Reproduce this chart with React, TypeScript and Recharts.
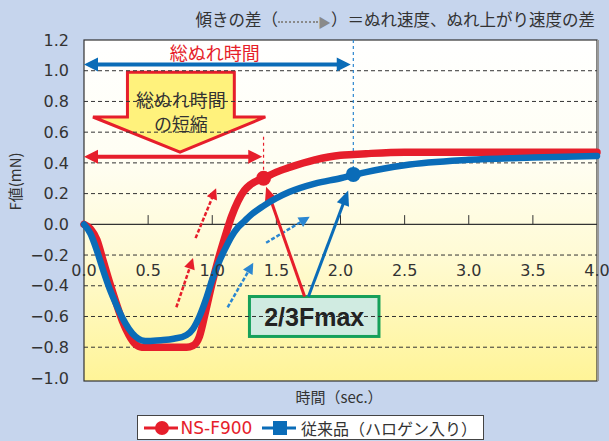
import React from "react";
import {
  Line,
  LineChart,
  ReferenceArea,
  ReferenceDot,
  ReferenceLine,
  XAxis,
  YAxis,
} from "recharts";

// time (sec.)
const times = [
  0, 0.05, 0.1, 0.15, 0.2, 0.25, 0.3, 0.35, 0.4, 0.45, 0.5, 0.6, 0.7, 0.8, 0.85,
  0.9, 0.95, 1.0, 1.05, 1.1, 1.15, 1.2, 1.25, 1.3, 1.4, 1.5, 1.6, 1.8, 2.0, 2.1,
  2.2, 2.5, 3.0, 3.5, 4.0,
];
// F value (mN), NS-F900
const nsF900 = [
  0, -0.03, -0.1, -0.24, -0.38, -0.51, -0.63, -0.72, -0.78, -0.8, -0.8, -0.8,
  -0.8, -0.8, -0.79, -0.73, -0.56, -0.38, -0.22, -0.08, 0.05, 0.15, 0.22, 0.26,
  0.3, 0.34, 0.37, 0.42, 0.45, 0.455, 0.46, 0.47, 0.47, 0.47, 0.47,
];
// F value (mN), conventional product
const conventional = [
  0, -0.06, -0.17, -0.3, -0.42, -0.52, -0.61, -0.68, -0.73, -0.755, -0.76,
  -0.755, -0.745, -0.72, -0.68, -0.6, -0.49, -0.36, -0.25, -0.16, -0.08, -0.02,
  0.02, 0.06, 0.12, 0.17, 0.21, 0.265, 0.3, 0.32, 0.34, 0.385, 0.42, 0.435, 0.445,
];
const seriesNames = ["NS-F900", "従来品（ハロゲン入り）"];

const yTicks = [-1.0, -0.8, -0.6, -0.4, -0.2, 0.0, 0.2, 0.4, 0.6, 0.8, 1.0, 1.2];
const gridValues = [-0.8, -0.6, -0.4, -0.2, 0.2, 0.4, 0.6, 0.8, 1.0];
const xTicks = [0, 0.5, 1.0, 1.5, 2.0, 2.5, 3.0, 3.5, 4.0];

// 2/3 Fmax points
const redMark = { x: 1.4, y: 0.3 };
const blueMark = { x: 2.1, y: 0.325 };

const data = times.map((t, i) => ({ t, red: nsF900[i], blue: conventional[i] }));

const RED = "#e61e2b";
const BLUE = "#0a6cb8";
const LIGHT_BLUE = "#2b87d1";
const INK = "#333";
const FONT = '"DejaVu Sans", "Noto Sans CJK JP", sans-serif';
const JP = '"Noto Sans CJK JP", sans-serif';

type ArrowOpts = {
  color: string;
  width: number;
  head: number;
  half: number;
  dash?: string;
  both?: boolean;
};

const arrowShape = (o: ArrowOpts) => (p: any) => {
  const { x1, y1, x2, y2 } = p;
  const len = Math.hypot(x2 - x1, y2 - y1) || 1;
  const ux = (x2 - x1) / len;
  const uy = (y2 - y1) / len;
  const head = (tx: number, ty: number, dir: number) => {
    const bx = tx - dir * ux * o.head;
    const by = ty - dir * uy * o.head;
    return `${tx},${ty} ${bx - uy * o.half},${by + ux * o.half} ${bx + uy * o.half},${by - ux * o.half}`;
  };
  const sx = o.both ? x1 + ux * o.head * 0.8 : x1;
  const sy = o.both ? y1 + uy * o.head * 0.8 : y1;
  return (
    <g>
      <line
        x1={sx}
        y1={sy}
        x2={x2 - ux * o.head * 0.8}
        y2={y2 - uy * o.head * 0.8}
        stroke={o.color}
        strokeWidth={o.width}
        strokeDasharray={o.dash}
      />
      <polygon points={head(x2, y2, 1)} fill={o.color} />
      {o.both && <polygon points={head(x1, y1, -1)} fill={o.color} />}
    </g>
  );
};

const PlotBackground = (p: any) => (
  <g>
    <defs>
      <linearGradient id="plotBg" x1="0" y1="0" x2="0" y2="1">
        <stop offset="0%" stopColor="#ffffff" />
        <stop offset="35%" stopColor="#fffef3" />
        <stop offset="62%" stopColor="#fffbd6" />
        <stop offset="100%" stopColor="#fff497" />
      </linearGradient>
    </defs>
    <rect x={p.x} y={p.y} width={p.width} height={p.height} fill="url(#plotBg)" stroke={INK} strokeWidth={1.2} />
    <line x1={p.x + p.width + 1} y1={p.y} x2={p.x + p.width + 1} y2={p.y + p.height} stroke="#999" strokeWidth={2} />
  </g>
);

const BigArrow = (p: any) => {
  const { x, y, width: w, height: h } = p;
  const rl = x + w * 0.2;
  const rr = x + w * 0.82;
  const sh = y + h * 0.56;
  const pts = [
    [rl, y],
    [rr, y],
    [rr, sh],
    [x + w, sh],
    [x + w * 0.505, y + h],
    [x, sh],
    [rl, sh],
  ]
    .map((q) => q.join(","))
    .join(" ");
  const cx = x + w * 0.51;
  return (
    <g>
      <polygon points={pts} fill="#fff27c" stroke={RED} strokeWidth={3} strokeLinejoin="miter" />
      <text x={cx} y={y + 27} textAnchor="middle" dominantBaseline="central" fontFamily={JP} fontSize={18} fill={INK}>
        総ぬれ時間
      </text>
      <text x={cx} y={y + 51} textAnchor="middle" dominantBaseline="central" fontFamily={JP} fontSize={18} fill={INK}>
        の短縮
      </text>
    </g>
  );
};

const FmaxBox = (p: any) => (
  <g>
    <rect x={p.x} y={p.y} width={p.width} height={p.height} fill="#d0ebe1" stroke="#16a05a" strokeWidth={3} />
    <text
      x={p.x + p.width / 2}
      y={p.y + p.height / 2 + 1}
      textAnchor="middle"
      dominantBaseline="central"
      fontFamily='"Liberation Sans", Arial, sans-serif'
      fontWeight="bold"
      fontSize={25}
      fill="#222"
    >
      2/3Fmax
    </text>
  </g>
);

const textShape = (value: string, color: string, size: number, family: string) => (p: any) => (
  <text x={p.cx} y={p.cy} textAnchor="middle" dominantBaseline="central" fontFamily={family} fontSize={size} fill={color}>
    {value}
  </text>
);

const fmt = (v: number) => (v < 0 ? "\u2212" + Math.abs(v).toFixed(1) : v.toFixed(1));

const LegendBox = () => (
  <div
    style={{
      position: "absolute",
      left: 137,
      top: 415,
      width: 347,
      border: "1px solid #444",
      background: "#fff",
      height: 25,
      display: "flex",
      alignItems: "center",
      padding: "0 6px",
      fontFamily: FONT,
      fontSize: 17,
      boxSizing: "border-box",
      whiteSpace: "nowrap",
    }}
  >
    <svg width={34} height={18}>
      <line x1={0} y1={9} x2={34} y2={9} stroke={RED} strokeWidth={3} />
      <circle cx={18} cy={9} r={7} fill={RED} />
    </svg>
    <span style={{ color: RED, marginLeft: 3 }}>{seriesNames[0]}</span>
    <svg width={34} height={18} style={{ marginLeft: 10 }}>
      <line x1={0} y1={9} x2={34} y2={9} stroke={BLUE} strokeWidth={3} />
      <rect x={11} y={2} width={14} height={14} fill={BLUE} />
    </svg>
    <span style={{ color: INK, marginLeft: 5, fontFamily: JP, fontSize: 16 }}>{seriesNames[1]}</span>
  </div>
);

export default function App() {
  return (
    <div style={{ position: "relative", width: 609, height: 441, background: "#c6d5ed", overflow: "hidden" }}>
      <style>{"body{margin:0}"}</style>
      <div
        style={{
          position: "absolute",
          right: 14,
          top: 8,
          fontFamily: JP,
          fontSize: 16.5,
          color: INK,
          whiteSpace: "nowrap",
          lineHeight: "22px",
        }}
      >
        傾きの差（
        <span
          style={{
            display: "inline-block",
            width: 40,
            borderTop: "2px dotted #8a8a8a",
            verticalAlign: "middle",
          }}
        />
        <span style={{ color: "#8a8a8a", fontSize: 13, verticalAlign: "middle" }}>▶</span>
        ）＝ぬれ速度、ぬれ上がり速度の差
      </div>
      <div
        style={{
          position: "absolute",
          left: 0,
          width: 678,
          top: 386,
          textAlign: "center",
          fontFamily: JP,
          fontSize: 15,
          color: INK,
        }}
      >
        時間（sec.）
      </div>
      <LineChart width={609} height={441} data={data} margin={{ top: 40, right: 12, bottom: 60, left: 0 }}>
        <XAxis dataKey="t" type="number" domain={[0, 4]} hide />
        <YAxis
          type="number"
          domain={[-1.02, 1.2]}
          ticks={yTicks}
          interval={0}
          width={84}
          axisLine={false}
          tickLine={false}
          tickSize={6}
          tickMargin={9}
          tickFormatter={fmt}
          tick={{ fill: INK, fontSize: 16, fontFamily: FONT }}
          label={{
            value: "F値(mN)",
            angle: -90,
            position: "insideLeft",
            offset: 16,
            fill: INK,
            fontSize: 15,
            fontFamily: JP,
          }}
        />
        <ReferenceArea x1={0} x2={4} y1={-1.02} y2={1.2} shape={PlotBackground} />
        {gridValues.map((v) => (
          <ReferenceLine key={"g" + v} y={v} stroke={INK} strokeWidth={1} strokeDasharray="4 3" />
        ))}
        <ReferenceLine y={0} stroke={INK} strokeWidth={1.2} />
        {xTicks.slice(1, -1).map((v) => (
          <ReferenceLine key={"t" + v} segment={[{ x: v, y: 0 }, { x: v, y: 0.06 }]} stroke={INK} strokeWidth={1} />
        ))}
        {xTicks.map((v) => (
          <ReferenceDot key={"l" + v} x={v} y={-0.3} r={0} shape={textShape(v.toFixed(1), INK, 16, FONT)} />
        ))}

        {/* 総ぬれ時間 arrows and guides */}
        <ReferenceLine
          segment={[{ x: blueMark.x, y: 1.2 }, { x: blueMark.x, y: blueMark.y }]}
          stroke={LIGHT_BLUE}
          strokeWidth={1.2}
          strokeDasharray="3 3"
        />
        <ReferenceLine
          segment={[{ x: redMark.x, y: 0.57 }, { x: redMark.x, y: redMark.y }]}
          stroke={RED}
          strokeWidth={1.2}
          strokeDasharray="3 3"
        />
        <ReferenceLine
          segment={[{ x: 0, y: 1.04 }, { x: 2.08, y: 1.04 }]}
          shape={arrowShape({ color: BLUE, width: 4, head: 14, half: 7, both: true })}
        />
        <ReferenceLine
          segment={[{ x: 0, y: 0.44 }, { x: 1.39, y: 0.44 }]}
          shape={arrowShape({ color: RED, width: 4, head: 14, half: 7, both: true })}
        />
        <ReferenceDot x={1.02} y={1.12} r={0} shape={textShape("総ぬれ時間", RED, 18, JP)} />
        <ReferenceArea x1={0.07} x2={1.414} y1={0.47} y2={0.99} shape={BigArrow} />

        {/* slope arrows */}
        <ReferenceLine
          segment={[{ x: 0.72, y: -0.54 }, { x: 0.85, y: -0.22 }]}
          shape={arrowShape({ color: RED, width: 2.5, head: 11, half: 5.5, dash: "4 2" })}
        />
        <ReferenceLine
          segment={[{ x: 0.87, y: -0.09 }, { x: 1.03, y: 0.235 }]}
          shape={arrowShape({ color: RED, width: 2.5, head: 11, half: 5.5, dash: "4 2" })}
        />
        <ReferenceLine
          segment={[{ x: 1.12, y: -0.54 }, { x: 1.32, y: -0.25 }]}
          shape={arrowShape({ color: LIGHT_BLUE, width: 2.5, head: 11, half: 5.5, dash: "4 2" })}
        />
        <ReferenceLine
          segment={[{ x: 1.42, y: -0.12 }, { x: 1.76, y: 0.05 }]}
          shape={arrowShape({ color: LIGHT_BLUE, width: 2.5, head: 11, half: 5.5, dash: "4 2" })}
        />

        {/* 2/3Fmax box and pointers */}
        <ReferenceLine
          segment={[{ x: 1.72, y: -0.47 }, { x: 1.42, y: 0.245 }]}
          shape={arrowShape({ color: RED, width: 3, head: 15, half: 6.5 })}
        />
        <ReferenceLine
          segment={[{ x: 1.75, y: -0.47 }, { x: 2.06, y: 0.22 }]}
          shape={arrowShape({ color: BLUE, width: 3, head: 15, half: 6.5 })}
        />
        <ReferenceArea x1={1.29} x2={2.3} y1={-0.73} y2={-0.47} shape={FmaxBox} />

        <Line
          dataKey="red"
          name={seriesNames[0]}
          type="monotone"
          stroke={RED}
          strokeWidth={7.5}
          strokeLinecap="round"
          dot={false}
          isAnimationActive={false}
        />
        <Line
          dataKey="blue"
          name={seriesNames[1]}
          type="monotone"
          stroke={BLUE}
          strokeWidth={6.5}
          strokeLinecap="round"
          dot={false}
          isAnimationActive={false}
        />
        <ReferenceDot x={redMark.x} y={redMark.y} r={7.5} fill={RED} stroke="none" />
        <ReferenceDot x={blueMark.x} y={blueMark.y} r={7.5} fill={BLUE} stroke="none" />
      </LineChart>
      <LegendBox />
    </div>
  );
}
